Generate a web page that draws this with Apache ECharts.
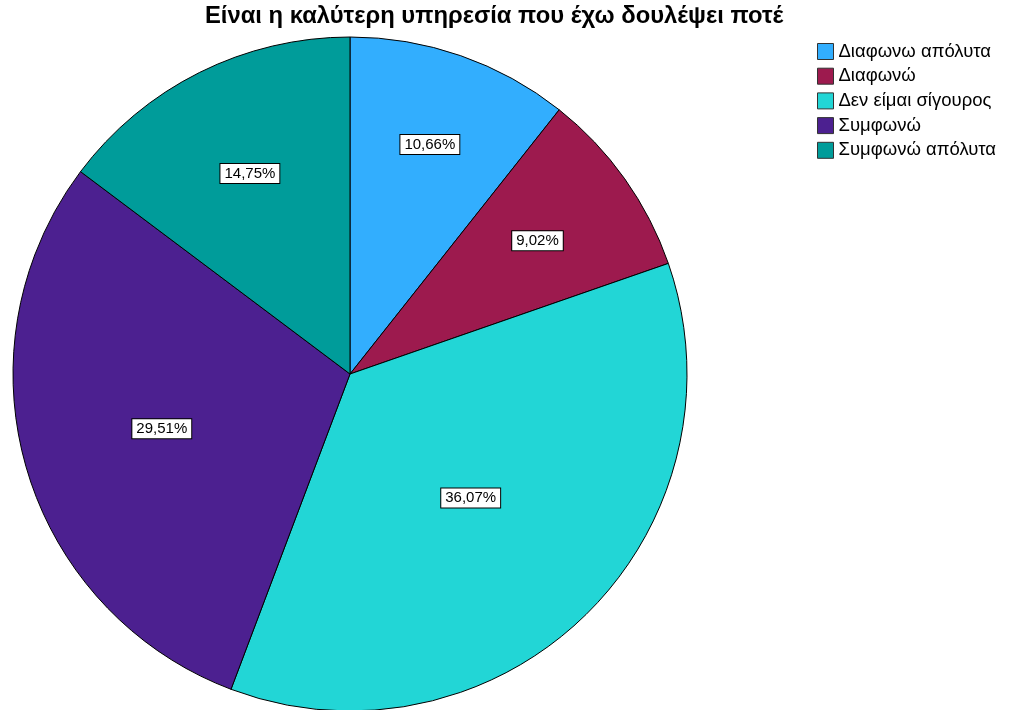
<!DOCTYPE html>
<html>
<head>
<meta charset="utf-8">
<script src="https://cdn.jsdelivr.net/npm/echarts@6/dist/echarts.min.js"></script>
<style>
  html, body { margin: 0; padding: 0; background: #fff; }
  #chart { width: 1011px; height: 710px; }
</style>
</head>
<body>
<div id="chart"></div>
<script>
// Response categories and their shares (%)
const categories = ['Διαφωνω απόλυτα', 'Διαφωνώ', 'Δεν είμαι σίγουρος', 'Συμφωνώ', 'Συμφωνώ απόλυτα'];
const shares = [10.66, 9.02, 36.07, 29.51, 14.75];
const colors = ['#32aefe', '#9d1a4e', '#22d6d6', '#4c2090', '#009c9a'];
const titleText = 'Είναι η καλύτερη υπηρεσία που έχω δουλέψει ποτέ';

// Style settings
const FONT = '"Liberation Sans", Arial, sans-serif';
const CENTER = [350, 374];
const RADIUS = 337;
// radial distance of each value label from the pie centre
const labelDist = [240, 227, 170, 193, 221];

const fmt = v => v.toFixed(2).replace('.', ',') + '%';

const pieData = categories.map((c, i) => ({
  name: c, value: shares[i], itemStyle: { color: colors[i] }
}));

const series = [{
  type: 'pie',
  center: CENTER,
  radius: [0, RADIUS],
  startAngle: 90,
  clockwise: true,
  silent: true,
  label: { show: false },
  labelLine: { show: false },
  itemStyle: { borderColor: '#000', borderWidth: 1 },
  emphasis: { disabled: true },
  data: pieData
}];

// Transparent rings, one per slice, that carry the boxed value labels
categories.forEach((c, k) => {
  series.push({
    type: 'pie',
    center: CENTER,
    radius: [labelDist[k] - 1, labelDist[k] + 1],
    startAngle: 90,
    clockwise: true,
    silent: true,
    legendHoverLink: false,
    emphasis: { disabled: true },
    itemStyle: { color: 'rgba(0,0,0,0)', borderWidth: 0 },
    labelLine: { show: false },
    label: { show: false },
    data: categories.map((n, i) => ({
      name: n,
      value: shares[i],
      label: i === k ? {
        show: true,
        position: 'inside',
        formatter: p => fmt(p.value),
        fontFamily: FONT,
        fontSize: 15,
        lineHeight: 16,
        color: '#000',
        backgroundColor: '#fff',
        borderColor: '#000',
        borderWidth: 1,
        padding: [2, 4, 1, 4]
      } : { show: false }
    }))
  });
});

const chart = echarts.init(document.getElementById('chart'), null, { renderer: 'canvas' });
chart.setOption({
  animation: false,
  backgroundColor: '#fff',
  color: colors,
  title: {
    text: titleText,
    left: 205,
    top: 4,
    padding: 0,
    textStyle: { fontFamily: FONT, fontSize: 23.8, fontWeight: 'bold', color: '#000' }
  },
  legend: {
    orient: 'vertical',
    left: 817,
    top: 42,
    padding: 0,
    data: categories,
    icon: 'rect',
    itemWidth: 16,
    itemHeight: 16,
    itemGap: 5.7,
    selectedMode: false,
    itemStyle: { borderColor: '#333', borderWidth: 1 },
    textStyle: { fontFamily: FONT, fontSize: 18.5, lineHeight: 16, color: '#000' }
  },
  series: series
});
</script>
</body>
</html>
